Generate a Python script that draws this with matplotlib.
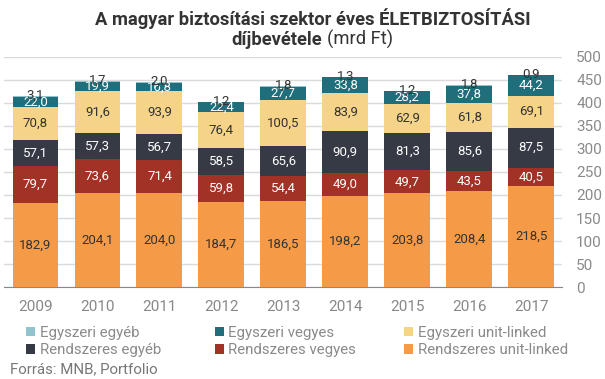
import matplotlib
matplotlib.use("Agg")
import matplotlib.pyplot as plt
import numpy as np

plt.rcParams['font.family'] = ['Roboto', 'DejaVu Sans']

years = ['2009', '2010', '2011', '2012', '2013', '2014', '2015', '2016', '2017']

# series, bottom to top
r_unit = [182.9, 204.1, 204.0, 184.7, 186.5, 198.2, 203.8, 208.4, 218.5]
r_vegyes = [79.7, 73.6, 71.4, 59.8, 54.4, 49.0, 49.7, 43.5, 40.5]
r_egyeb = [57.1, 57.3, 56.7, 58.5, 65.6, 90.9, 81.3, 85.6, 87.5]
e_unit = [70.8, 91.6, 93.9, 76.4, 100.5, 83.9, 62.9, 61.8, 69.1]
e_vegyes = [22.0, 19.9, 16.8, 22.4, 27.7, 33.8, 28.2, 37.8, 44.2]
e_egyeb = [3.1, 1.7, 2.0, 1.2, 1.8, 1.3, 1.2, 1.8, 0.9]

series = [
    ('Rendszeres unit-linked', r_unit, '#F59B48', '#333333'),
    ('Rendszeres vegyes', r_vegyes, '#A23226', 'white'),
    ('Rendszeres egyéb', r_egyeb, '#363A45', 'white'),
    ('Egyszeri unit-linked', e_unit, '#F5D389', '#333333'),
    ('Egyszeri vegyes', e_vegyes, '#1E6E7C', 'white'),
    ('Egyszeri egyéb', e_egyeb, '#8FC4CF', '#333333'),
]

fig = plt.figure(figsize=(6.05, 3.79), dpi=100)
ax = fig.add_axes([0.0074, 0.2427, 0.922, 0.607])

x = np.arange(len(years))
bottom = np.zeros(len(years))
handles = {}
for name, vals, col, tcol in series:
    vals = np.array(vals)
    b = ax.bar(x, vals, 0.74, bottom=bottom, color=col, label=name, zorder=3)
    handles[name] = b
    for i, v in enumerate(vals):
        lab = f'{v:.1f}'.replace('.', ',')
        if name == 'Egyszeri egyéb':
            # tiny top segment: label sits on the bar top
            ax.text(x[i], bottom[i] + v + 1.5, lab, ha='center', va='center',
                    fontsize=9.5, color=tcol, zorder=5)
        else:
            ax.text(x[i], bottom[i] + v / 2, lab, ha='center', va='center',
                    fontsize=9.5, color=tcol, zorder=5)
    bottom += vals

ax.set_xlim(-0.5, len(years) - 0.5)
ax.set_ylim(0, 500)
ax.set_yticks(np.arange(0, 501, 50))
ax.yaxis.tick_right()
ax.tick_params(axis='y', length=0, labelsize=11, labelcolor='#8a8a8a', pad=10)
ax.tick_params(axis='x', length=0, labelsize=11, labelcolor='#888888', pad=9)
ax.set_xticks(x)
ax.set_xticklabels(years)
ax.grid(axis='y', color='#dadada', linewidth=1, zorder=0)
for s in ['top', 'left', 'right']:
    ax.spines[s].set_visible(False)
ax.spines['bottom'].set_color('#888888')

# title: bold part + normal part
fig.text(0.5165, 0.934, 'A magyar biztosítási szektor éves ÉLETBIZTOSÍTÁSI',
         ha='center', va='baseline', fontsize=13.2, fontweight='bold', color='#333333')
fig.text(0.533, 0.881, 'díjbevétele', ha='right', va='baseline',
         fontsize=13.2, fontweight='bold', color='#333333')
fig.text(0.541, 0.881, '(mrd Ft)', ha='left', va='baseline',
         fontsize=13.2, color='#333333')

# legend: three columns of two rows each
cols = [('Egyszeri egyéb', 'Rendszeres egyéb'),
        ('Egyszeri vegyes', 'Rendszeres vegyes'),
        ('Egyszeri unit-linked', 'Rendszeres unit-linked')]
col_x = [26, 215, 404]
for names, cx in zip(cols, col_x):
    leg = fig.legend([handles[n] for n in names], names, loc='center left',
                     bbox_to_anchor=(cx / 605, 0.099), frameon=False, fontsize=10.8,
                     handlelength=0.6, handleheight=0.6, handletextpad=0.3,
                     labelspacing=0.22, labelcolor='#8a8a8a',
                     borderaxespad=0, borderpad=0)

fig.text(10 / 605, 1 - 369 / 379, 'Forrás: MNB, Portfolio', ha='left', va='center',
         fontsize=10.8, color='#777777')

fig.savefig('out.png', dpi=100)
